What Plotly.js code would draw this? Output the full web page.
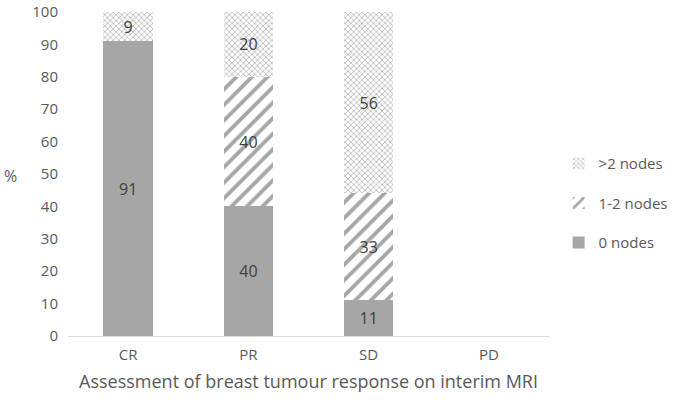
<!DOCTYPE html>
<html><head><meta charset="utf-8">
<script src="https://cdn.plot.ly/plotly-3.0.1.min.js"></script>
<style>body{margin:0;background:#fff}#c{width:685px;height:400px}</style>
</head><body><div id="c"></div>
<script>
var categories = ['CR', 'PR', 'SD', 'PD'];
var nodes0 = [91, 40, 11, 0];
var nodes12 = [0, 40, 33, 0];
var nodes2plus = [9, 20, 56, 0];
var seriesNames = ['0 nodes', '1-2 nodes', '>2 nodes'];
var yTicks = [0, 10, 20, 30, 40, 50, 60, 70, 80, 90, 100];

function lbl(arr){ return arr.map(function(v){ return v > 0 ? String(v) : ''; }); }
var FONT = 'Open Sans, Noto Sans, sans-serif';
var gray = '#a6a6a6';
function mk(y, name, pattern, grp, rank){
  return {
    type: 'bar', x: categories, y: y, name: name, text: lbl(y),
    textposition: 'inside', insidetextanchor: 'middle', constraintext: 'none',
    textfont: {family: FONT, size: 16, color: '#404040'},
    marker: pattern ? {color: '#ffffff', line: {width: 0}, pattern: pattern} : {color: gray, line: {width: 0}},
    legendgroup: grp, legendrank: rank, hoverinfo: 'skip'
  };
}
var data = [
  mk(nodes0, seriesNames[0], null, 'a', 3),
  mk(nodes12, seriesNames[1], {shape: '/', fgcolor: gray, bgcolor: '#ffffff', size: 11, solidity: 0.35}, 'b', 2),
  mk(nodes2plus, seriesNames[2], {shape: 'x', fgcolor: '#bdbdbd', bgcolor: '#ffffff', size: 4, solidity: 0.4}, 'c', 1)
];
var layout = {
  width: 685, height: 400,
  margin: {l: 68, r: 118, t: 12, b: 64},
  barmode: 'stack', bargap: 0.59,
  paper_bgcolor: '#fff', plot_bgcolor: '#fff',
  font: {family: FONT, color: '#595959', size: 15},
  showlegend: true,
  legend: {x: 1.02, xanchor: 'left', y: 0.41, yanchor: 'middle', traceorder: 'grouped',
           tracegroupgap: 17, font: {family: FONT, size: 15, color: '#595959'}, itemwidth: 30},
  xaxis: {showgrid: false, showline: true, linecolor: '#d9d9d9', linewidth: 1,
          ticks: 'outside', ticklen: 5, tickcolor: 'rgba(0,0,0,0)',
          tickfont: {family: FONT, size: 15, color: '#595959'},
          title: {text: 'Assessment of breast tumour response on interim MRI', standoff: 12,
                  font: {family: FONT, size: 18, color: '#595959'}}},
  yaxis: {range: [0, 100], tickvals: yTicks, showgrid: false, zeroline: false, showline: false,
          ticks: 'outside', ticklen: 6, tickcolor: 'rgba(0,0,0,0)', ticklabeloverflow: 'allow',
          tickfont: {family: FONT, size: 15, color: '#595959'}, fixedrange: true},
  annotations: [{text: '%', xref: 'paper', yref: 'paper', x: -0.12, y: 0.495, showarrow: false,
                 xanchor: 'center', yanchor: 'middle', font: {family: FONT, size: 16, color: '#595959'}}]
};
Plotly.newPlot('c', data, layout, {displayModeBar: false, staticPlot: true});
</script></body></html>
